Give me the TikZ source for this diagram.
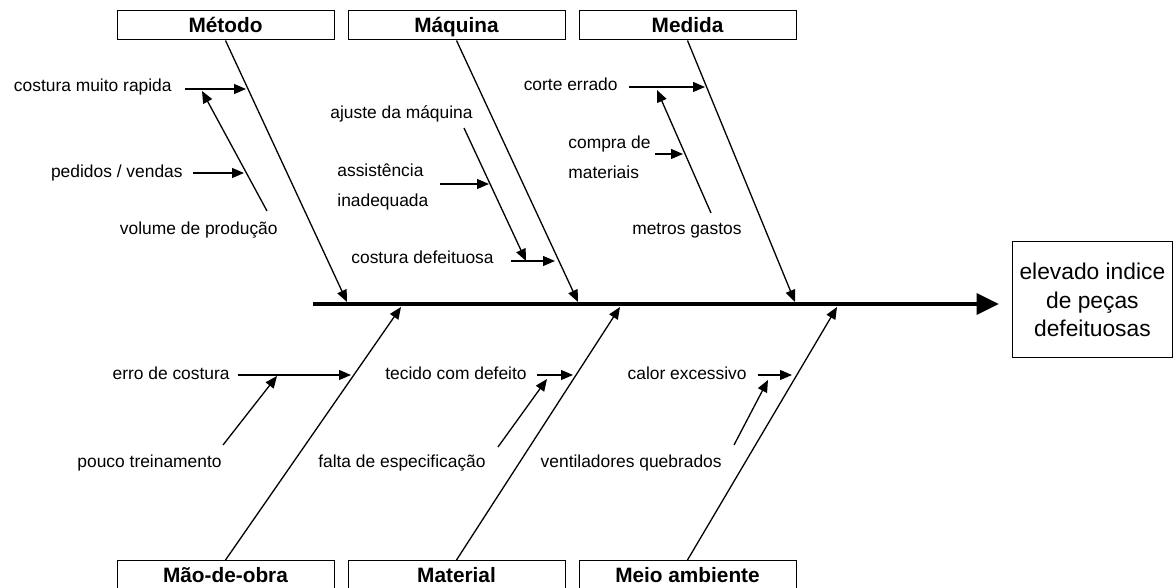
\documentclass[tikz,border=0pt]{standalone}
\usepackage{fontspec}
\setmainfont{Liberation Sans}
\usetikzlibrary{arrows.meta,calc,positioning}
\tikzset{
    cause/.style = {draw, rectangle, line width=0.5pt,
        minimum height=14.5pt,
        minimum width=108.5pt, inner sep=0pt,
        text height=9.4pt, text depth=1.9pt,
        font=\fontsize{10.4}{12}\selectfont\bfseries},
    effect/.style = {draw, rectangle, line width=0.5pt,
        minimum height=58pt,
        minimum width=80.2pt, inner sep=0pt, align=center,
        font=\fontsize{11.4}{14.25}\selectfont},
    lbl/.style = {inner sep=0pt, align=left, font=\fontsize{8.7}{15}\selectfont},
    spine/.style = {draw, line width=1.6pt, -{Triangle[length=11pt,width=10.5pt]}},
    bone/.style = {draw, line width=0.65pt, -{Triangle[length=6pt,width=5pt]}}
}

\begin{document}
\begin{tikzpicture}[x=0.5pt, y=-0.5pt, node distance=115.5pt]
        \useasboundingbox (0,0) rectangle (1174,588);
        \node [cause] (metodo) at (225.5,25.5) {Método};
        \node [cause, right of=metodo] (maquina) {Máquina};
        \node [cause, right of=maquina] (medida) {Medida};
        \node [cause] (maoobra) at (225.5,575) {Mão-de-obra};
        \node [cause, right of=maoobra] (material) {Material};
        \node [cause, right of=material] (meio) {Meio ambiente};
        \node [effect] (efeito) at (1092.4,300) {elevado indice\\de peças\\defeituosas};
        \coordinate (cauda) at (313,304);
        \draw [spine, shorten >=6.5pt] (cauda) -- (cauda -| efeito.west);
        \coordinate (pmetodo) at (347,302);
        \coordinate (pmaquina) at (578,302);
        \coordinate (pmedida) at (795,302);
        \coordinate (pmaoobra) at (401,307);
        \coordinate (pmaterial) at (620,307);
        \coordinate (pmeio) at (837,307);
        \draw [bone] (metodo.south) -- (pmetodo);
        \draw [bone] (maquina.south) -- (pmaquina);
        \draw [bone] (medida.south) -- (pmedida);
        \draw [bone] (maoobra.north) -- (pmaoobra);
        \draw [bone] (material.north) -- (pmaterial);
        \draw [bone] (meio.north) -- (pmeio);
        % metodo
        \node [lbl, anchor=base east] (rapida) at (172,92) {costura muito rapida};
        \node [lbl, anchor=base east] (volume) at (278,235) {volume de produção};
        \node [lbl, anchor=base east] (pedidos) at (183,178) {pedidos / vendas};
        \coordinate (rapida0) at (185,89);   \coordinate (rapida1) at (246,89);
        \coordinate (volume0) at (267,211);  \coordinate (volume1) at (202,91);
        \coordinate (pedidos0) at (193,173); \coordinate (pedidos1) at (244,173);
        \draw [bone] (rapida0) -- (rapida1);
        \draw [bone] (volume0) -- (volume1);
        \draw [bone] (pedidos0) -- (pedidos1);
        % maquina
        \node [lbl, anchor=base east] (ajuste) at (473,119) {ajuste da máquina};
        \node [lbl, anchor=west] (assist) at (337,187) {assistência\\inadequada};
        \node [lbl, anchor=base east] (defeit) at (494,264) {costura defeituosa};
        \coordinate (ajuste0) at (464,128); \coordinate (ajuste1) at (526,261);
        \coordinate (assist0) at (440,184); \coordinate (assist1) at (489,184);
        \coordinate (defeit0) at (511,261); \coordinate (defeit1) at (555,261);
        \draw [bone] (ajuste0) -- (ajuste1);
        \draw [bone] (assist0) -- (assist1);
        \draw [bone] (defeit0) -- (defeit1);
        % medida
        \node [lbl, anchor=base east] (corte) at (618,91) {corte errado};
        \node [lbl, anchor=base east] (metros) at (742,235) {metros gastos};
        \node [lbl, anchor=west] (compra) at (568,157) {compra de\\materiais};
        \coordinate (corte0) at (629,87);  \coordinate (corte1) at (705,87);
        \coordinate (metros0) at (711,213); \coordinate (metros1) at (657,90);
        \coordinate (compra0) at (655,154); \coordinate (compra1) at (683,154);
        \draw [bone] (corte0) -- (corte1);
        \draw [bone] (metros0) -- (metros1);
        \draw [bone] (compra0) -- (compra1);
        % mao-de-obra
        \node [lbl, anchor=base east] (erro) at (230,380) {erro de costura};
        \node [lbl, anchor=base east] (pouco) at (222,467) {pouco treinamento};
        \coordinate (erro0) at (238,375);  \coordinate (erro1) at (351,375);
        \coordinate (pouco0) at (223,445); \coordinate (pouco1) at (277,376);
        \draw [bone] (erro0) -- (erro1);
        \draw [bone] (pouco0) -- (pouco1);
        % material
        \node [lbl, anchor=base east] (tecido) at (527,380) {tecido com defeito};
        \node [lbl, anchor=base east] (falta) at (486,467) {falta de especificação};
        \coordinate (tecido0) at (537,375); \coordinate (tecido1) at (573,375);
        \coordinate (falta0) at (498,447);  \coordinate (falta1) at (547,379);
        \draw [bone] (tecido0) -- (tecido1);
        \draw [bone] (falta0) -- (falta1);
        % meio ambiente
        \node [lbl, anchor=base east] (calor) at (747,380) {calor excessivo};
        \node [lbl, anchor=base east] (ventil) at (722,467) {ventiladores quebrados};
        \coordinate (calor0) at (758,375);  \coordinate (calor1) at (792,375);
        \coordinate (ventil0) at (734,445); \coordinate (ventil1) at (768,380);
        \draw [bone] (calor0) -- (calor1);
        \draw [bone] (ventil0) -- (ventil1);
    \end{tikzpicture}
\end{document}
